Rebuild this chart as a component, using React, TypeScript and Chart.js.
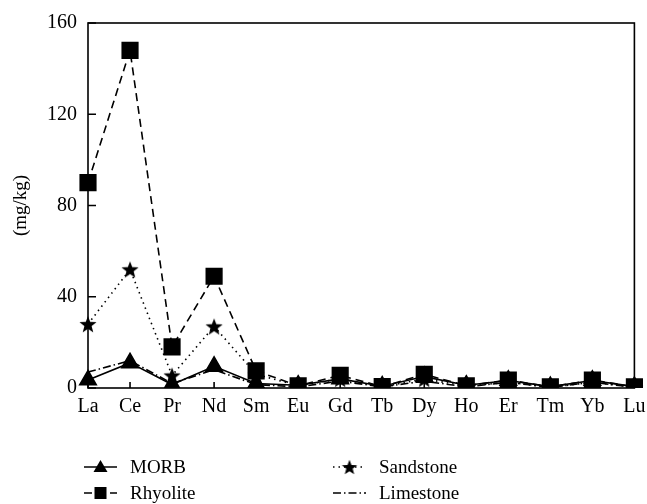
import React, { useEffect, useRef } from "react";
import { Chart, registerables } from "chart.js";
Chart.register(...registerables);

const elements = ["La", "Ce", "Pr", "Nd", "Sm", "Eu", "Gd", "Tb", "Dy", "Ho", "Er", "Tm", "Yb", "Lu"];
const morb = [3.5, 11, 1.5, 9.5, 2, 1.2, 4, 0.8, 5, 1.2, 3.3, 0.6, 3.3, 0.6];
const rhyolite = [90, 148, 18, 49, 7.5, 1, 5.5, 0.6, 6, 1, 3.5, 0.5, 3.5, 0.5];
const sandstone = [28, 52, 5.5, 27, 6, 1, 4, 0.5, 4, 0.8, 2.5, 0.3, 2.5, 0.3];
const limestone = [7, 12, 2, 8, 1.5, 0.5, 3, 0.5, 3, 0.5, 2.5, 0.3, 2.5, 0.3];
const yTicks = [0, 40, 80, 120, 160];
const yTitle = "(mg/kg)";
const seriesNames = ["MORB", "Rhyolite", "Sandstone", "Limestone"];

const FONT = "'Liberation Serif', 'DejaVu Serif', serif";

function makeStar(outer: number) {
  const size = Math.ceil(outer * 2 + 2);
  const c = document.createElement("canvas");
  c.width = size;
  c.height = size;
  const ctx = c.getContext("2d")!;
  const cx = size / 2;
  const cy = size / 2 + outer * 0.1;
  const inner = outer * 0.42;
  ctx.beginPath();
  for (let i = 0; i < 10; i++) {
    const r = i % 2 === 0 ? outer : inner;
    const a = -Math.PI / 2 + (i * Math.PI) / 5;
    const px = cx + r * Math.cos(a);
    const py = cy + r * Math.sin(a);
    if (i === 0) ctx.moveTo(px, py);
    else ctx.lineTo(px, py);
  }
  ctx.closePath();
  ctx.fillStyle = "#000";
  ctx.fill();
  return c;
}

export default function App() {
  const ref = useRef<HTMLCanvasElement>(null);
  useEffect(() => {
    const star = makeStar(9);
    const starSmall = makeStar(8);
    const dashes: Record<string, number[]> = {
      MORB: [],
      Rhyolite: [8, 5],
      Sandstone: [1.5, 4],
      Limestone: [8, 3, 1.5, 3],
    };

    const framePlugin = {
      id: "frame",
      afterDraw(chart: any) {
        const { ctx, chartArea: a } = chart;
        const xs = chart.scales.x;
        const ys = chart.scales.y;
        ctx.save();
        ctx.strokeStyle = "#000";
        ctx.lineWidth = 1.6;
        ctx.setLineDash([]);
        ctx.strokeRect(a.left, a.top, a.right - a.left, a.bottom - a.top);
        ctx.beginPath();
        yTicks.forEach((v) => {
          const y = ys.getPixelForValue(v);
          ctx.moveTo(a.left, y);
          ctx.lineTo(a.left + 8, y);
        });
        elements.forEach((_, i) => {
          const x = xs.getPixelForValue(i);
          ctx.moveTo(x, a.bottom);
          ctx.lineTo(x, a.bottom - 6);
        });
        ctx.stroke();

        // legend
        const entries = [
          { name: seriesNames[0], x: 84, y: 467, marker: "tri" },
          { name: seriesNames[1], x: 84, y: 493, marker: "sq" },
          { name: seriesNames[2], x: 333, y: 467, marker: "star" },
          { name: seriesNames[3], x: 333, y: 493, marker: "none" },
        ];
        entries.forEach((e) => {
          ctx.save();
          ctx.lineWidth = 1.6;
          ctx.strokeStyle = "#000";
          ctx.setLineDash(dashes[e.name]);
          ctx.beginPath();
          ctx.moveTo(e.x, e.y);
          ctx.lineTo(e.x + 33, e.y);
          ctx.stroke();
          ctx.setLineDash([]);
          const cx = e.x + 16.5;
          ctx.fillStyle = "#000";
          if (e.marker === "tri") {
            ctx.beginPath();
            ctx.moveTo(cx, e.y - 7);
            ctx.lineTo(cx + 7, e.y + 5);
            ctx.lineTo(cx - 7, e.y + 5);
            ctx.closePath();
            ctx.fill();
          } else if (e.marker === "sq") {
            ctx.fillRect(cx - 6, e.y - 6, 12, 12);
          } else if (e.marker === "star") {
            ctx.drawImage(starSmall, cx - starSmall.width / 2, e.y - starSmall.height / 2);
          }
          ctx.font = `19px ${FONT}`;
          ctx.textBaseline = "middle";
          ctx.textAlign = "left";
          ctx.fillText(e.name, e.x + 46, e.y + 1);
          ctx.restore();
        });
        ctx.restore();
      },
    };

    const chart = new Chart(ref.current!, {
      type: "line",
      data: {
        labels: elements,
        datasets: [
          {
            label: seriesNames[0],
            data: morb,
            borderColor: "#000",
            backgroundColor: "#000",
            borderWidth: 1.6,
            pointStyle: "triangle",
            pointRadius: 9.5,
            borderDash: dashes.MORB,
          },
          {
            label: seriesNames[1],
            data: rhyolite,
            borderColor: "#000",
            backgroundColor: "#000",
            borderWidth: 1.6,
            pointStyle: "rect",
            pointRadius: 11,
            borderDash: dashes.Rhyolite,
          },
          {
            label: seriesNames[2],
            data: sandstone,
            borderColor: "#000",
            backgroundColor: "#000",
            borderWidth: 1.6,
            pointStyle: star as any,
            pointRadius: 9,
            borderDash: dashes.Sandstone,
          },
          {
            label: seriesNames[3],
            data: limestone,
            borderColor: "#000",
            backgroundColor: "#000",
            borderWidth: 1.6,
            pointRadius: 0,
            borderDash: dashes.Limestone,
          },
        ],
      },
      options: {
        animation: false,
        responsive: false,
        devicePixelRatio: 1,
        layout: { padding: { top: 23, right: 12, left: 0, bottom: 0 } },
        plugins: { legend: { display: false }, tooltip: { enabled: false } },
        elements: { line: { tension: 0 }, point: { borderWidth: 0 } },
        scales: {
          x: {
            type: "category",
            offset: false,
            grid: { display: false, drawTicks: false },
            border: { display: false },
            ticks: { color: "#000", font: { family: FONT, size: 20 }, padding: 7, maxRotation: 0, autoSkip: false },
            afterFit(scale: any) {
              scale.height = 116;
              scale.paddingLeft = 0;
              scale.paddingRight = 0;
            },
          },
          y: {
            min: 0,
            max: 160,
            grid: { display: false, drawTicks: false },
            border: { display: false },
            ticks: { color: "#000", font: { family: FONT, size: 20 }, padding: 11, stepSize: 40 },
            title: { display: true, text: yTitle, color: "#000", font: { family: FONT, size: 19 }, padding: { top: 10, bottom: 0 } },
            afterFit(scale: any) {
              scale.width = 88;
              scale.paddingTop = 0;
              scale.paddingBottom = 0;
            },
          },
        },
      },
      plugins: [framePlugin],
    });
    return () => chart.destroy();
  }, []);

  return (
    <div style={{ position: "absolute", left: 0, top: 0, width: 647, height: 504, background: "#fff" }}>
      <canvas ref={ref} width={647} height={504} style={{ width: 647, height: 504 }} />
    </div>
  );
}
